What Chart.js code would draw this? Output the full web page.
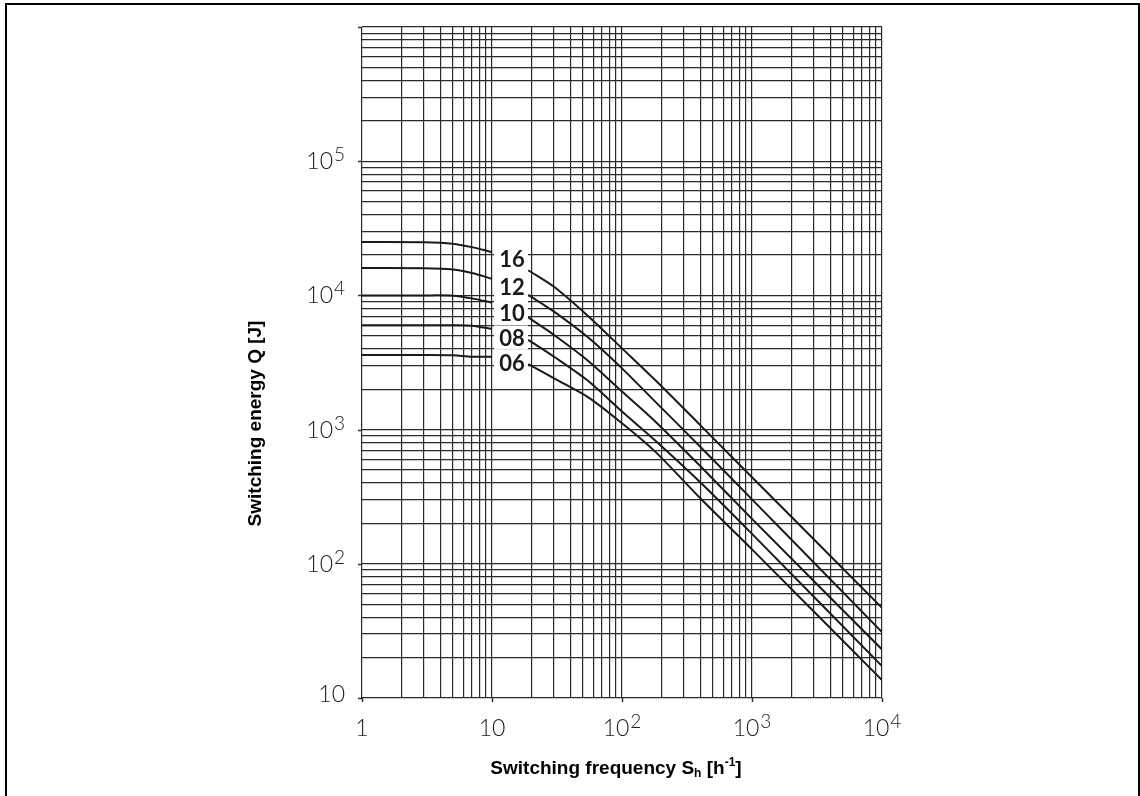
<!DOCTYPE html>
<html>
<head>
<meta charset="utf-8">
<script src="https://cdn.jsdelivr.net/npm/chart.js@4.4.1/dist/chart.umd.min.js"></script>
<style>
  html, body { margin: 0; padding: 0; background: #fff; }
  #wrap { position: relative; width: 1140px; height: 796px; }
</style>
</head>
<body>
<div id="wrap"><canvas id="switching-chart"></canvas></div>
<script>
// Curve names (size codes)
var sizes = ["16", "12", "10", "08", "06"];

// Switching frequency S_h [1/h], before and after the label gap
var freqLeft = [1, 3, 5, 7, 10];
var freqRight = [19, 30, 55, 100, 180, 400, 1000, 10000];

// Switching energy Q [J], one row per curve
var energyLeft16 = [25000, 24900, 24300, 22900, 21000];
var energyRight16 = [15400, 11600, 7000, 4030, 2340, 1080, 441, 47];
var energyLeft12 = [16000, 15950, 15600, 14700, 13300];
var energyRight12 = [10100, 7570, 4850, 2860, 1615, 746, 302, 31];
var energyLeft10 = [10000, 10000, 9950, 9500, 8830];
var energyRight10 = [6850, 5070, 3250, 1920, 1150, 535, 216, 23];
var energyLeft08 = [6000, 6000, 6000, 5950, 5620];
var energyRight08 = [4660, 3490, 2300, 1365, 830, 405, 167, 17.3];
var energyLeft06 = [3600, 3600, 3580, 3490, 3490];
var energyRight06 = [3080, 2410, 1740, 1115, 685, 308, 128, 13.6];

// where the size labels sit (data coords)
var labelFreq = 14;
var labelEnergy = [18700, 11600, 7400, 4860, 3160];

// axis decades and their labels
var xDecades = [1, 10, 100, 1000, 10000];
var xTickLabels = [["1", ""], ["10", ""], ["10", "2"], ["10", "3"], ["10", "4"]];
var yDecades = [10, 100, 1000, 10000, 100000, 1000000];
var yTickLabels = [["10", ""], ["10", "2"], ["10", "3"], ["10", "4"], ["10", "5"]];

var energyRows = [
  [energyLeft16, energyRight16],
  [energyLeft12, energyRight12],
  [energyLeft10, energyRight10],
  [energyLeft08, energyRight08],
  [energyLeft06, energyRight06]
];

// 1..9 gridlines inside every decade
function logGrid(decades) {
  var out = [];
  for (var i = 0; i < decades.length; i++) {
    if (i === decades.length - 1) { out.push(decades[i]); break; }
    for (var m = 1; m < 10; m++) out.push(decades[i] * m);
  }
  return out;
}

function buildPoints(left, right) {
  var pts = [];
  freqLeft.forEach(function (f, i) { pts.push({ x: f, y: left[i] }); });
  pts.push({ x: labelFreq, y: null });
  freqRight.forEach(function (f, i) { pts.push({ x: f, y: right[i] }); });
  return pts;
}

var datasets = sizes.map(function (s, i) {
  return {
    label: s,
    data: buildPoints(energyRows[i][0], energyRows[i][1]),
    borderColor: "#1a1a1a",
    borderWidth: 2,
    pointRadius: 0,
    tension: 0.3,
    spanGaps: false
  };
});

var numFont = '300 23px Lato, "Open Sans", sans-serif';
var expFont = '300 19px Lato, "Open Sans", sans-serif';
var titleFont = 'bold 19px "Liberation Sans Narrow", "Liberation Sans", Arial, sans-serif';
var titleSmall = 'bold 12px "Liberation Sans Narrow", "Liberation Sans", Arial, sans-serif';

function drawPower(ctx, base, exp, x, baseline, align) {
  ctx.font = numFont;
  var wb = ctx.measureText(base).width;
  ctx.font = expFont;
  var we = exp ? ctx.measureText(exp).width + 1 : 0;
  var x0 = align === "right" ? x - wb - we : x - (wb + we) / 2;
  ctx.textAlign = "left";
  ctx.textBaseline = "alphabetic";
  ctx.font = numFont;
  ctx.fillText(base, x0, baseline);
  if (exp) {
    ctx.font = expFont;
    ctx.fillText(exp, x0 + wb + 1, baseline - 8);
  }
}

// draws a run of [text, font, dy] pieces from x, returns total width
function drawRuns(ctx, runs, x, y, measureOnly) {
  var w = 0;
  runs.forEach(function (r) {
    ctx.font = r[1];
    if (!measureOnly) ctx.fillText(r[0], x + w, y + r[2]);
    w += ctx.measureText(r[0]).width;
  });
  return w;
}

var decor = {
  id: "decor",
  afterDatasetsDraw: function (chart) {
    var ctx = chart.ctx, xs = chart.scales.x, ys = chart.scales.y;
    ctx.save();
    var cx = xs.getPixelForValue(labelFreq);
    sizes.forEach(function (s, i) {
      var cy = ys.getPixelForValue(labelEnergy[i]);
      ctx.fillStyle = "#fff";
      ctx.fillRect(cx - 17, cy - 12, 34, 24);
    });
    ctx.fillStyle = "#1a1a1a";
    ctx.font = 'bold 22px Lato, "Open Sans", sans-serif';
    ctx.textAlign = "center";
    ctx.textBaseline = "middle";
    sizes.forEach(function (s, i) {
      ctx.fillText(s, cx + 1, ys.getPixelForValue(labelEnergy[i]) + 1);
    });
    ctx.restore();
  },
  afterDraw: function (chart) {
    var ctx = chart.ctx, xs = chart.scales.x, ys = chart.scales.y, a = chart.chartArea;
    ctx.save();
    // decade tick marks outside the grid
    ctx.strokeStyle = "#333";
    ctx.lineWidth = 1.5;
    ctx.beginPath();
    xDecades.forEach(function (v) {
      var p = Math.round(xs.getPixelForValue(v)) + 0.5;
      ctx.moveTo(p, a.bottom); ctx.lineTo(p, a.bottom + 4);
    });
    yDecades.forEach(function (v) {
      var p = Math.round(ys.getPixelForValue(v)) + 0.5;
      ctx.moveTo(a.left - 4, p); ctx.lineTo(a.left, p);
    });
    ctx.stroke();

    // tick labels
    ctx.fillStyle = "#1a1a1a";
    xDecades.forEach(function (v, i) {
      drawPower(ctx, xTickLabels[i][0], xTickLabels[i][1], xs.getPixelForValue(v), a.bottom + 38, "center");
    });
    yTickLabels.forEach(function (t, i) {
      var lift = i === 0 ? 4 : 0;
      drawPower(ctx, t[0], t[1], a.left - 17, ys.getPixelForValue(yDecades[i]) + 8 - lift, "right");
    });

    // axis titles
    ctx.fillStyle = "#000";
    ctx.textAlign = "left";
    ctx.textBaseline = "alphabetic";
    var xRuns = [["Switching frequency S", titleFont, 0], ["h", titleSmall, 3], [" [h", titleFont, 0], ["-1", titleSmall, -8], ["]", titleFont, 0]];
    var xw = drawRuns(ctx, xRuns, 0, 0, true);
    var xMid = (a.left + a.right) / 2 - 6;
    drawRuns(ctx, xRuns, xMid - xw / 2, a.bottom + 76, false);

    ctx.save();
    ctx.translate(261, (a.top + a.bottom) / 2 + 61);
    ctx.rotate(-Math.PI / 2);
    ctx.font = titleFont;
    ctx.textAlign = "center";
    ctx.fillText("Switching energy Q [J]", 0, 0);
    ctx.restore();

    // outer frame
    ctx.strokeStyle = "#000";
    ctx.lineWidth = 2;
    ctx.beginPath();
    ctx.moveTo(6, 796);
    ctx.lineTo(6, 4);
    ctx.lineTo(1139, 4);
    ctx.lineTo(1139, 796);
    ctx.stroke();
    ctx.restore();
  }
};

var gridStyle = { color: "#2a2a2a", lineWidth: 1.2, drawTicks: false };

var config = {
  type: "line",
  data: { datasets: datasets },
  options: {
    responsive: true,
    maintainAspectRatio: false,
    animation: false,
    layout: { padding: { left: 362, right: 258, top: 27, bottom: 98 } },
    plugins: { legend: { display: false }, tooltip: { enabled: false } },
    scales: {
      x: {
        type: "logarithmic",
        min: 1,
        max: 10000,
        grid: gridStyle,
        border: { display: false },
        ticks: { display: false },
        afterBuildTicks: function (s) { s.ticks = logGrid(xDecades).map(function (v) { return { value: v }; }); },
        afterFit: function (s) { s.height = 0; }
      },
      y: {
        type: "logarithmic",
        min: 10,
        max: 1000000,
        grid: gridStyle,
        border: { display: false },
        ticks: { display: false },
        afterBuildTicks: function (s) { s.ticks = logGrid(yDecades).map(function (v) { return { value: v }; }); },
        afterFit: function (s) { s.width = 0; }
      }
    }
  },
  plugins: [decor]
};

var switchingChart = new Chart(document.getElementById("switching-chart"), config);
</script>
</body>
</html>
